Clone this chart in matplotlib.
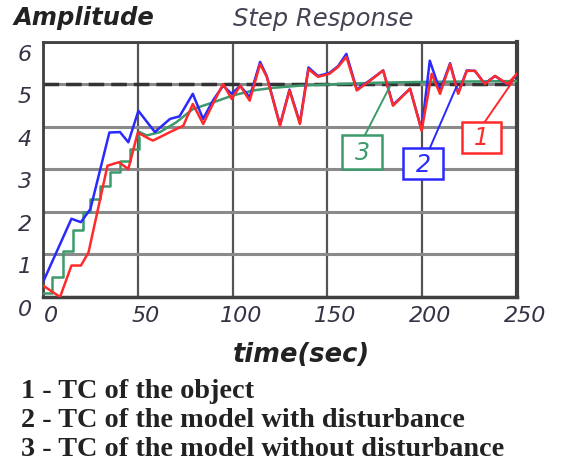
"""Step response chart: object vs. model with / without disturbance."""

import matplotlib
matplotlib.use("Agg")
import matplotlib.pyplot as plt
from matplotlib.patches import Rectangle
from matplotlib.transforms import ScaledTranslation

# object (1) and model with disturbance (2)
t_obj = [0, 9, 15, 20, 24, 34, 40, 45, 50, 56, 58, 67, 74, 79, 84.5, 90, 95, 99.5,
         104, 109, 114.5, 118, 125, 130, 135.5, 140, 145, 151, 155.6, 160, 165.5,
         172.5, 179.4, 184.6, 193.6, 199.7, 205, 209.4, 214.7, 219, 223.5, 227.8,
         233, 238.4, 245, 250]
y_obj = [0.27, 0.0, 0.74, 0.74, 1.05, 3.09, 3.17, 3.01, 3.87, 3.72, 3.68, 3.88, 4.03,
         4.54, 4.07, 4.58, 5.01, 4.66, 4.97, 4.62, 5.48, 5.18, 4.03, 4.86, 4.07, 5.36,
         5.18, 5.25, 5.41, 5.65, 4.86, 5.09, 5.33, 4.5, 4.9, 3.91, 5.25, 4.78, 5.48,
         4.78, 5.32, 5.32, 5.01, 5.2, 5.01, 5.25]

t_dist = [0, 15, 20, 25, 35, 40.6, 45, 50.3, 59, 67, 72, 79, 84.4, 90, 95, 99.5, 104,
          109, 114.5, 118, 125, 130, 135.5, 140, 145, 151, 155.6, 160, 165.5, 172.5,
          179.4, 184.6, 193.6, 199.7, 204, 209.4, 214.7, 219, 223.5, 227.8, 233,
          238.4, 245, 250]
y_dist = [0.35, 1.84, 1.76, 2.07, 3.87, 3.88, 3.64, 4.38, 3.88, 4.19, 4.25, 4.78, 4.19,
          4.65, 4.97, 4.78, 4.97, 4.7, 5.53, 5.2, 4.05, 4.88, 4.1, 5.4, 5.2, 5.27, 5.43,
          5.72, 4.88, 5.1, 5.33, 4.52, 4.9, 3.93, 5.56, 4.85, 5.5, 4.8, 5.33, 5.32, 5.02,
          5.2, 5.0, 5.24]

# model without disturbance (3): staircase start, then smooth
t_step = [0, 4.6, 10.7, 15.6, 21.3, 24.8, 30, 35.3, 40.6, 45.9, 50.5]
y_step = [0.1, 0.46, 1.09, 1.58, 1.99, 2.3, 2.62, 2.93, 3.2, 3.48, 3.75]
t_smooth = [50.5, 51, 54.7, 61.7, 70, 79, 89.8, 100, 111, 121, 135, 150, 175, 200, 250]
y_smooth = [3.75, 3.88, 3.8, 3.88, 4.1, 4.42, 4.58, 4.74, 4.86, 4.92, 4.97, 5.0, 5.04,
            5.06, 5.08]

setpoint = 5.0
x_ticks = [0, 50, 100, 150, 200, 250]
y_ticks = [0, 1, 2, 3, 4, 5, 6]

# callout boxes: (label, x0, y0, width, height, line from, line to)
callouts = [
    ("3", 157.7, 3.01, 21.1, 0.80, (169.8, 3.81), (183, 4.96)),
    ("2", 190.0, 2.78, 21.0, 0.72, (204, 3.50), (218, 4.94)),
    ("1", 220.8, 3.39, 20.6, 0.73, (233, 4.12), (248, 5.09)),
]

colors = {"1": "#ff2a2a", "2": "#2a2aff", "3": "#3c9a6c"}

fig = plt.figure(figsize=(5.63, 4.64), dpi=100)
fig.patch.set_facecolor("white")
ax = fig.add_axes([0.0764, 0.3578, 0.8419, 0.5496])

ax.set_xlim(0, 250)
ax.set_ylim(0, 6)
ax.set_xticks(x_ticks)
ax.set_yticks(y_ticks)
ax.grid(True, axis="x", color="#555555", linewidth=1.6, zorder=0)
ax.grid(True, axis="y", color="#8a8a8a", linewidth=2.2, zorder=0)
for sp in ax.spines.values():
    sp.set_color("#404040")
    sp.set_linewidth(2.0)
ax.spines["right"].set_linewidth(3.0)
ax.spines["bottom"].set_linewidth(2.5)
ax.tick_params(length=0, labelsize=16, labelcolor="#333344")
ax.tick_params(axis="y", pad=8)
ax.tick_params(axis="x", pad=6)
for lab in ax.get_xticklabels() + ax.get_yticklabels():
    lab.set_fontstyle("italic")
y_off = ScaledTranslation(0, -0.10, fig.dpi_scale_trans)
for lab in ax.get_yticklabels():
    lab.set_transform(lab.get_transform() + y_off)
x_off = ScaledTranslation(0.08, 0, fig.dpi_scale_trans)
for lab in ax.get_xticklabels():
    lab.set_transform(lab.get_transform() + x_off)

ax.axhline(setpoint, color="#333333", linewidth=2.5, dashes=(4.5, 2), zorder=2)

ax.plot(t_step, y_step, drawstyle="steps-post", color=colors["3"], linewidth=1.8, zorder=3)
ax.plot(t_smooth, y_smooth, color=colors["3"], linewidth=1.8, zorder=3)
ax.plot(t_dist, y_dist, color=colors["2"], linewidth=1.8, zorder=4)
ax.plot(t_obj, y_obj, color=colors["1"], linewidth=1.8, zorder=5)

for name, x0, y0, w, h, p0, p1 in callouts:
    c = colors[name]
    ax.add_patch(Rectangle((x0, y0), w, h, fill=True, facecolor="white",
                           edgecolor=c, linewidth=1.8, zorder=6))
    ax.plot([p0[0], p1[0]], [p0[1], p1[1]], color=c, linewidth=1.4, zorder=6)
    ax.text(x0 + w / 2, y0 + h / 2, name, color=c, fontsize=17, fontstyle="italic",
            ha="center", va="center", zorder=7)

fig.text(0.025, 0.962, "Amplitude", fontsize=17.5, fontweight="bold", fontstyle="italic",
         color="#222222", va="center")
fig.text(0.574, 0.958, "Step Response", fontsize=17.5, fontstyle="italic",
         color="#444455", ha="center", va="center")
fig.text(0.535, 0.235, "time(sec)", fontsize=18.5, fontweight="bold", fontstyle="italic",
         color="#222222", ha="center", va="center")

legend_lines = [
    "1 - TC of the object",
    "2 - TC of the model with disturbance",
    "3 - TC of the model without disturbance",
]
for i, line in enumerate(legend_lines):
    fig.text(0.038, 0.157 - i * 0.0625, line, fontsize=20.3, fontweight="bold",
             family="Liberation Serif", color="#222222", va="center")

fig.savefig("out.png", dpi=100, facecolor=fig.get_facecolor())
